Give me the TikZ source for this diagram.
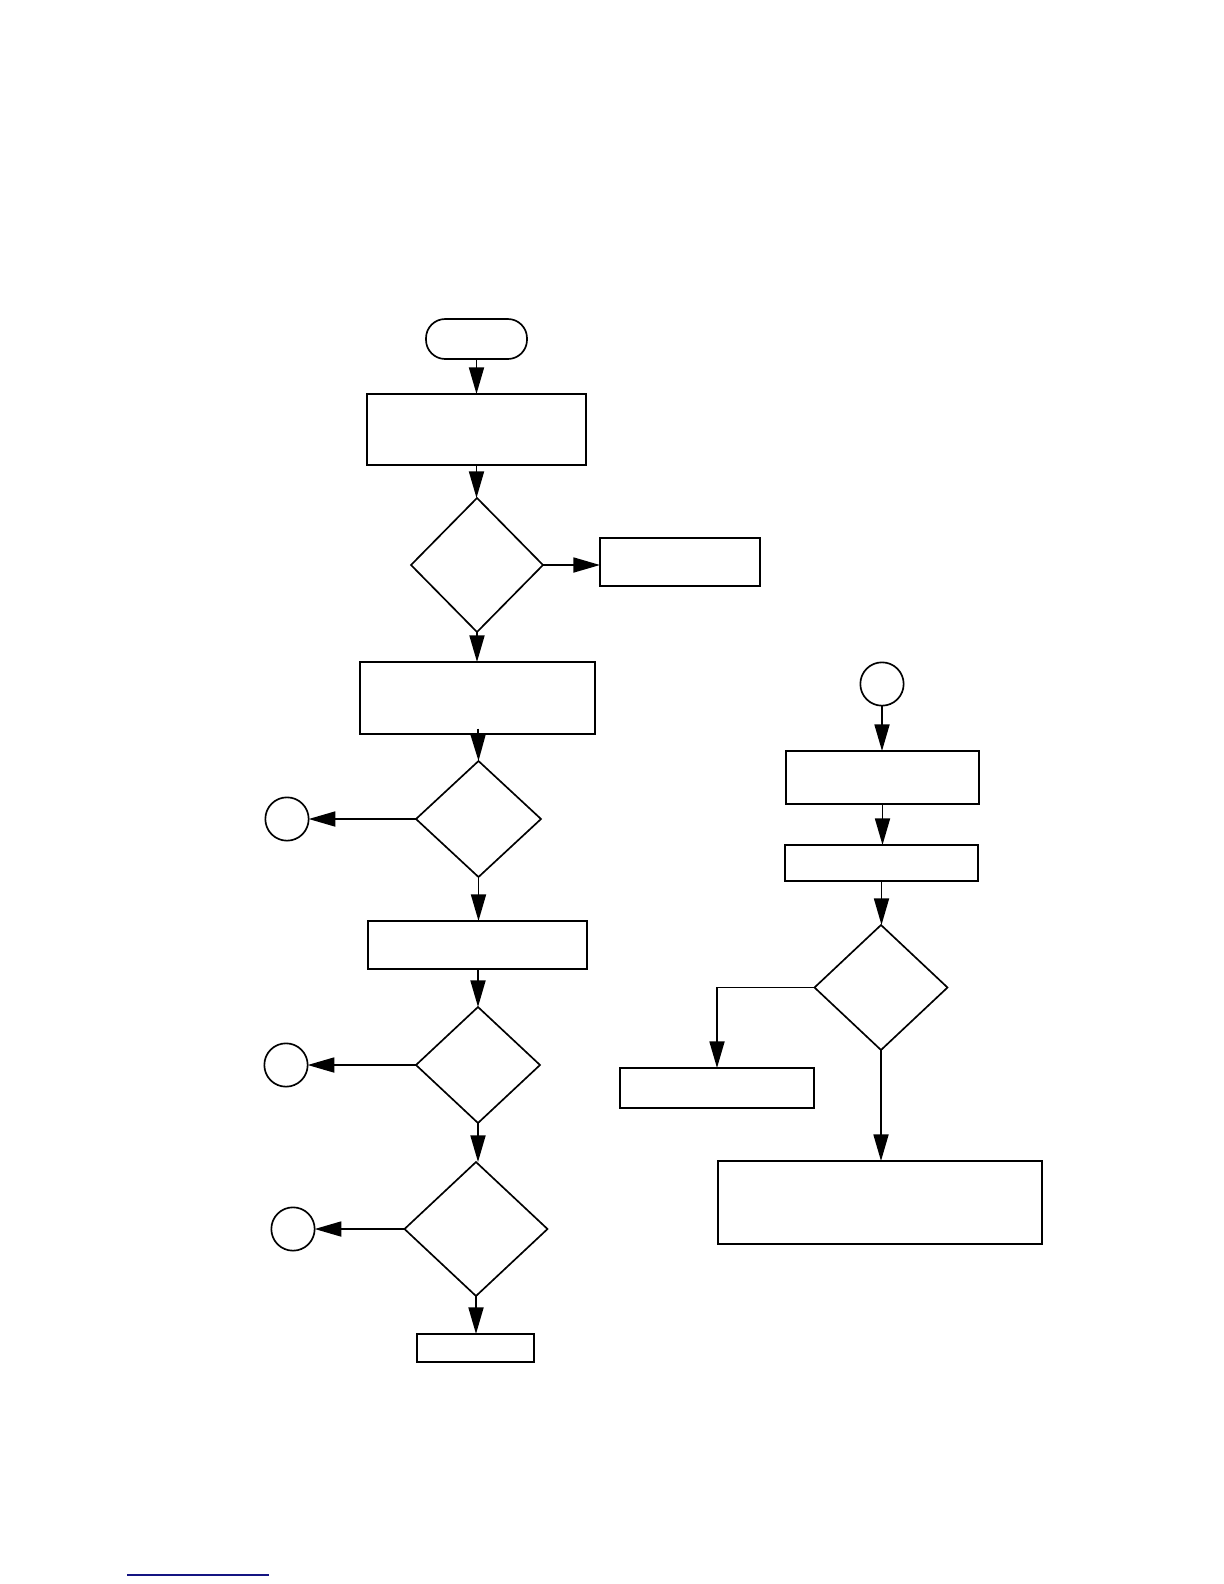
\documentclass[tikz,border=0pt]{standalone}
\usetikzlibrary{shapes.geometric,arrows.meta}
\definecolor{linkblue}{RGB}{20,20,130}
\tikzset{
  box/.style={draw, rectangle, inner sep=0pt, outer sep=0pt, line width=1.2pt},
  term/.style={draw, rectangle, rounded corners=11.5pt, inner sep=0pt, outer sep=0pt, line width=1pt},
  dec/.style={draw, diamond, inner sep=0pt, outer sep=0pt, line width=1pt},
  conn/.style={draw, circle, inner sep=0pt, outer sep=0pt, line width=1pt, minimum size=26pt},
  flow/.style={line width=1.1pt, -{Triangle[length=16pt,width=9pt]}},
}
\begin{document}
\begin{tikzpicture}[x=0.6pt,y=-0.6pt]
\useasboundingbox (0,0) rectangle (1224,1584);
% left column
\node[term, minimum width=60.6pt, minimum height=24pt] (t) at (476.5,339) {};
\node[box, minimum width=131.4pt, minimum height=42.6pt] (b1) at (476.5,429.5) {};
\node[dec, minimum width=79.2pt, minimum height=80.4pt] (d1) at (477,565) {};
\node[box, minimum width=96pt, minimum height=28.8pt] (b2) at (680,562) {};
\node[box, minimum width=141pt, minimum height=43.2pt] (b3) at (477.5,698) {};
\coordinate (b3in) at (478,729);
\node[dec, minimum width=75pt, minimum height=69.6pt] (d2) at (478.5,819) {};
\node[conn] (c1) at (287,819) {};
\node[box, minimum width=131.4pt, minimum height=28.8pt] (b4) at (477.5,945) {};
\node[dec, minimum width=74.4pt, minimum height=69.6pt] (d3) at (478,1065) {};
\node[conn] (c2) at (286,1065) {};
\node[dec, minimum width=85.8pt, minimum height=80.4pt] (d4) at (476,1229) {};
\node[conn] (c3) at (293,1229) {};
\node[box, minimum width=70.2pt, minimum height=16.8pt] (b5) at (475.5,1348) {};
% right column
\node[conn] (c4) at (882,684) {};
\node[box, minimum width=115.8pt, minimum height=31.8pt] (b7) at (882.5,777.5) {};
\node[box, minimum width=115.8pt, minimum height=21.6pt] (b8) at (881.5,863) {};
\node[dec, minimum width=79.8pt, minimum height=75pt] (d5) at (881,987.5) {};
\node[box, minimum width=116.4pt, minimum height=24pt] (b9) at (717,1088) {};
\node[box, minimum width=194.4pt, minimum height=49.8pt] (b10) at (880,1202.5) {};
% connectors
\draw[flow] (t.south) -- (t.south |- b1.north);
\draw[flow] (b1.south) -- (b1.south |- d1.north);
\draw[flow] (d1.east) -- (b2.west |- d1.east);
\draw[flow] (d1.south) -- (d1.south |- b3.north);
\draw[flow] (b3in) -- (d2.north);
\draw[flow] (d2.west) -- (c1.east);
\draw[flow] (d2.south) -- (d2.south |- b4.north);
\draw[flow] (b4.south) -- (b4.south -| d3.north) -- (d3.north);
\draw[flow] (d3.west) -- (c2.east);
\draw[flow] (d3.south) -- (d3.south |- d4.north);
\draw[flow] (d4.west) -- (c3.east);
\draw[flow] (d4.south) -- (d4.south |- b5.north);
\draw[flow] (c4.south) -- (c4.south |- b7.north);
\draw[flow] (b7.south) -- (b7.south |- b8.north);
\draw[flow] (b8.south) -- (b8.south |- d5.north);
\draw[flow] (d5.west) -| (b9.north);
\draw[flow] (d5.south) -- (d5.south |- b10.north);
% rule at the foot of the page
\draw[linkblue, line width=0.8pt] (127,1575) -- (269,1575);
\end{tikzpicture}
\end{document}
